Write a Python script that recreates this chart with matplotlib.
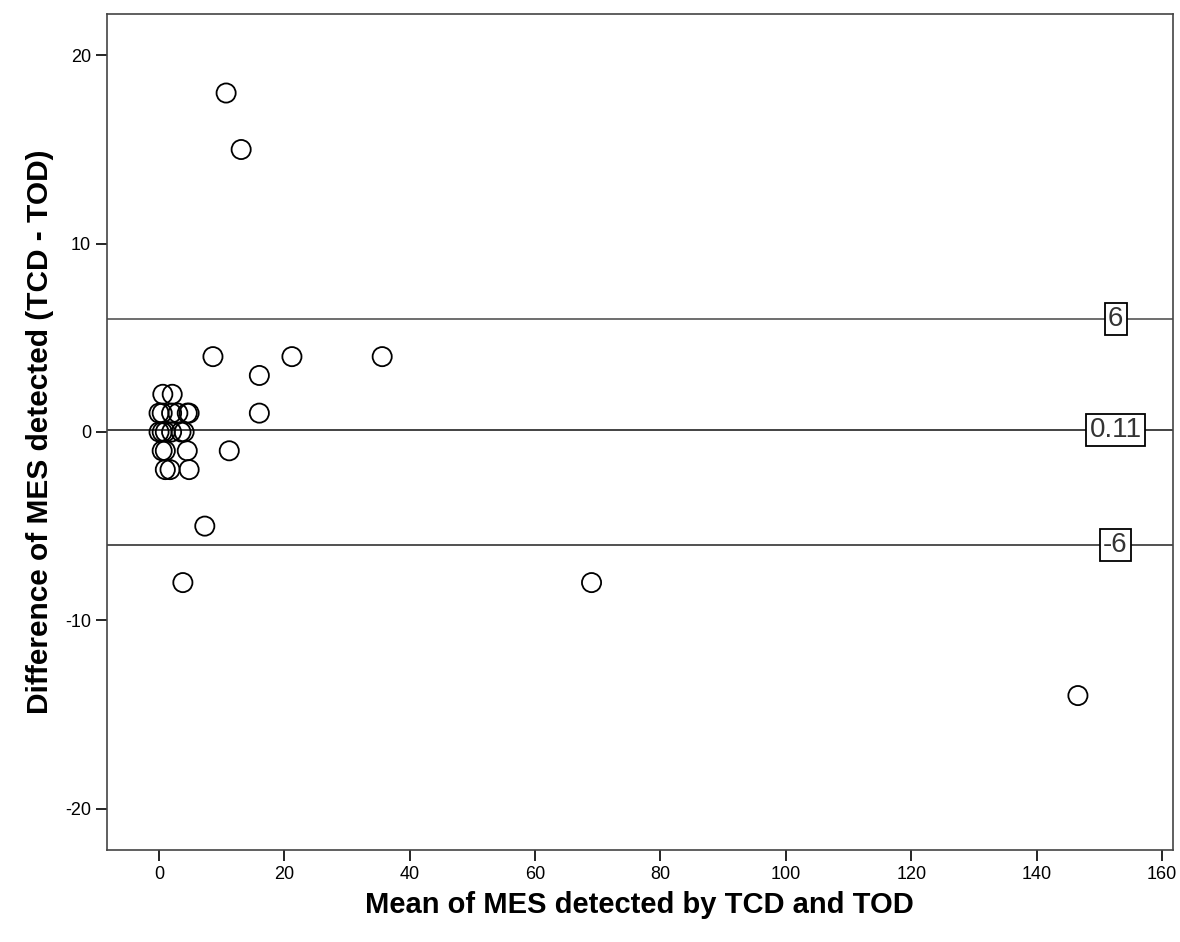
import matplotlib.pyplot as plt

# Bland-Altman data: mean (x) and difference (y)
mean_vals = [10.7, 13.1, 8.6, 21.2, 35.6, 16, 16, 11.2, 7.3, 3.8, 69, 146.6,
             0.6, 2.1,
             0, 0.5, 2, 3, 4.5, 4.8,
             0, 0.5, 1, 2, 3.5, 4,
             0.5, 1, 4.5,
             1, 1.75, 4.8]
diff_vals = [18, 15, 4, 4, 4, 3, 1, -1, -5, -8, -8, -14,
             2, 2,
             1, 1, 1, 1, 1, 1,
             0, 0, 0, 0, 0, 0,
             -1, -1, -1,
             -2, -2, -2]
ref_lines = [6, 0.11, -6]
ref_labels = ['6', '0.11', '-6']

plt.rcParams['font.family'] = ['Liberation Sans', 'DejaVu Sans']
plt.rcParams['axes.unicode_minus'] = False

fig = plt.figure(figsize=(11.8, 9.42), dpi=100)
ax = fig.add_axes([0.0907, 0.0977, 0.903, 0.8875])

ax.axhline(ref_lines[0], color='#555555', lw=1.2, zorder=1)
ax.axhline(ref_lines[1], color='#222222', lw=1.2, zorder=1)
ax.axhline(ref_lines[2], color='#333333', lw=1.2, zorder=1)

ax.scatter(mean_vals, diff_vals, s=190, facecolors='none', edgecolors='black',
           linewidths=1.3, zorder=3)

x_lab = max(mean_vals) + 6
for yv, lab in zip(ref_lines, ref_labels):
    ax.text(x_lab, yv, lab, ha='center', va='center', fontsize=20, color='#333333',
            bbox=dict(boxstyle='square,pad=0.12', fc='white', ec='black', lw=1.3), zorder=4)

ax.set_xlim(-8.3, 161.7)
ax.set_ylim(-22.2, 22.2)
ax.set_xticks(range(0, 161, 20))
ax.set_yticks([-20, -10, 0, 10, 20])
ax.tick_params(direction='out', length=8, width=1.2, labelsize=13, top=False, right=False)
for sp in ax.spines.values():
    sp.set_linewidth(1.2)
    sp.set_color('#444444')

ax.set_xlabel('Mean of MES detected by TCD and TOD', fontsize=21, fontweight='bold', labelpad=6)
ax.set_ylabel('Difference of MES detected (TCD - TOD)', fontsize=21.5, fontweight='bold', labelpad=8)

fig.savefig('out.png', dpi=100)
